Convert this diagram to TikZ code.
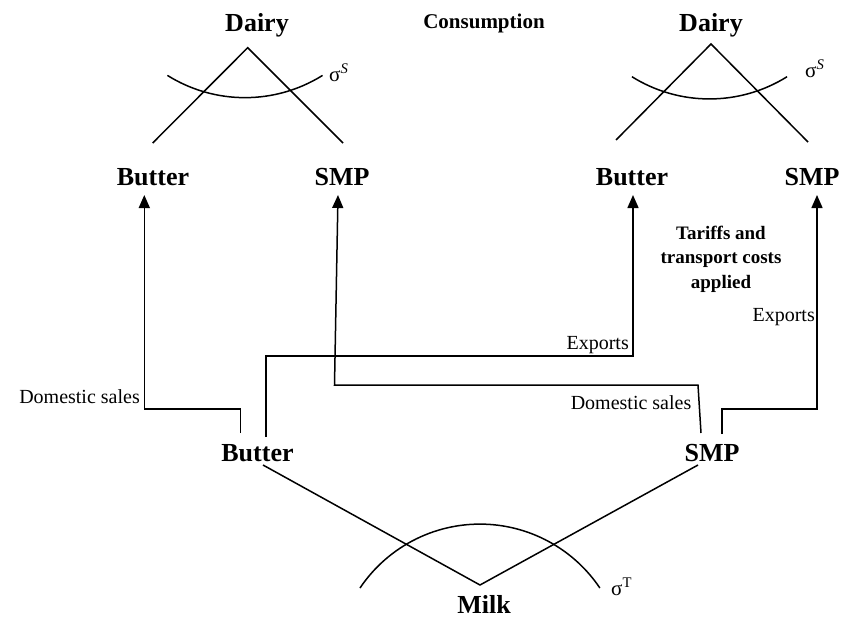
\documentclass[tikz,border=0pt]{standalone}
\usepackage{fontspec}
\setmainfont{Liberation Serif}
\usetikzlibrary{arrows.meta}
\begin{document}
\begin{tikzpicture}[x=1pt,y=-1pt,
  lab/.style={font=\fontsize{26}{30}\selectfont\bfseries, inner sep=0pt, anchor=base},
  note/.style={font=\fontsize{20}{24}\selectfont, inner sep=0pt, anchor=base east},
  sig/.style={font=\fontsize{21}{24}\selectfont, inner sep=0pt, anchor=base west},
  ln/.style={line width=1.5pt},
  arr/.style={ln, -{Triangle[width=11pt,length=13pt]}}]
\useasboundingbox (0,0) rectangle (851,624);
% labels
\node[lab] (dairyL) at (257,31.5) {Dairy};
\node[lab] (dairyR) at (711,31.5) {Dairy};
\node[lab, font=\fontsize{21}{24}\selectfont\bfseries] (cons) at (484,28) {Consumption};
\node[lab] (butTL) at (153,185) {Butter};
\node[lab] (smpTL) at (342,185) {SMP};
\node[lab] (butTR) at (632,185) {Butter};
\node[lab] (smpTR) at (812,185) {SMP};
\node[lab] (butB) at (257.5,461) {Butter};
\node[lab] (smpB) at (712,461) {SMP};
\node[lab] (milk) at (484,613) {Milk};
\node[align=center, font=\fontsize{19}{24.5}\selectfont\bfseries, inner sep=0pt] (tariff) at (721,259) {Tariffs and\\transport costs\\applied};
\node[note] (dsL) at (140,403) {Domestic sales};
\node[note] (dsR) at (691.5,409) {Domestic sales};
\node[note] (exR) at (815,321) {Exports};
\node[note] (exM) at (629,349) {Exports};
\node[sig] (sigL) at (329,81) {σ\textsuperscript{\textit{S}}};
\node[sig] (sigR) at (805,77) {σ\textsuperscript{\textit{S}}};
\node[sig] (sigT) at (611,595) {σ\textsuperscript{T}};
% tree coordinates
\coordinate (apL) at (247.7,47.7);
\coordinate (lgL1) at (152.7,143);
\coordinate (lgL2) at (343,143);
\coordinate (apR) at (711,44);
\coordinate (lgR1) at (616,140);
\coordinate (lgR2) at (808,142);
\coordinate (apM) at (480,585);
\coordinate (bB) at (263,465);
\coordinate (sB) at (698,465);
% CES/CET trees
\draw[ln] (lgL1) -- (apL) -- (lgL2);
\draw[ln] (lgR1) -- (apR) -- (lgR2);
\draw[ln] (bB) -- (apM) -- (sB);
\draw[ln] (167.4,75.4) arc[start angle=122, end angle=58, radius=146.4];
\draw[ln] (631.9,76.7) arc[start angle=122, end angle=58, radius=146.4];
\draw[ln] (360,588) arc[start angle=-146.1, end angle=-33.9, radius=144.5];
% flows
\coordinate (tBL) at (144.3,195);
\coordinate (tSL) at (338,195);
\coordinate (tBR) at (633,195);
\coordinate (tSR) at (817,195);
\draw[arr] (240.7,433) -- (240.7,409) -- (144.3,409) -- (tBL);
\draw[arr] (266,437) -- (266,356) -- (633,356) -- (tBR);
\draw[arr] (701,433) -- (698,385) -- (334.5,385) -- (tSL);
\draw[arr] (722,434) -- (722,409) -- (817,409) -- (tSR);
\end{tikzpicture}
\end{document}
